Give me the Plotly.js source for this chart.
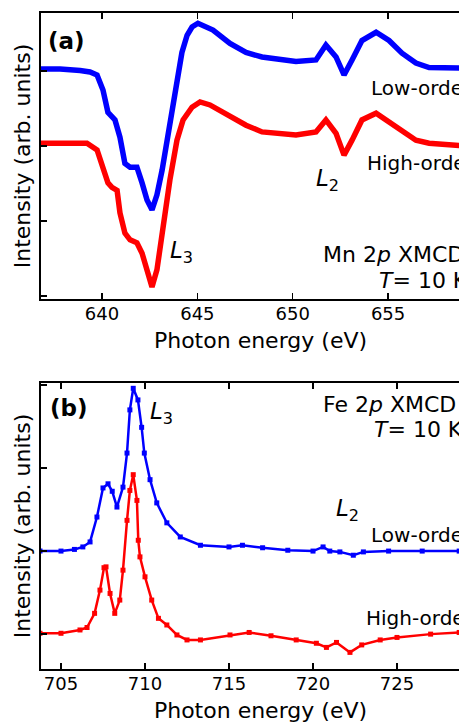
<!DOCTYPE html>
<html>
<head>
<meta charset="utf-8">
<script src="https://cdn.plot.ly/plotly-3.0.1.min.js"></script>
<style>
html, body { margin: 0; padding: 0; overflow: hidden; background: #fff; }
#chart { width: 480px; height: 728px; }
</style>
</head>
<body>
<div id="chart"></div>
<script>
// Panel (a): Mn 2p XMCD
const mnLowE = [636.80,637.80,638.85,639.37,639.74,640.05,640.31,640.68,640.94,641.20,641.47,641.83,642.10,642.36,642.62,642.88,643.15,643.41,643.67,643.93,644.19,644.46,644.72,645.03,645.82,646.71,647.55,648.39,649.28,650.17,651.22,651.74,652.27,652.69,653.11,653.63,654.37,655.05,655.73,656.46,657.15,658.72,659.80];
const mnLowI = [3.03,3.03,3.01,2.99,2.95,2.75,2.45,2.35,2.12,1.77,1.72,1.72,1.51,1.28,1.15,1.35,1.68,2.08,2.48,2.88,3.25,3.48,3.59,3.64,3.55,3.37,3.25,3.19,3.16,3.13,3.15,3.35,3.19,2.95,3.15,3.41,3.52,3.41,3.24,3.11,3.05,3.04,3.04];
const mnHighE = [636.80,639.21,639.74,640.05,640.31,640.52,640.79,640.94,641.20,641.47,641.83,642.10,642.36,642.62,642.88,643.04,643.30,643.56,643.93,644.25,644.72,645.14,645.66,646.19,646.66,647.55,648.39,649.28,650.17,651.22,651.74,652.27,652.69,653.11,653.63,654.37,655.05,655.73,656.46,657.15,658.72,659.80];
const mnHighI = [2.04,2.04,1.95,1.68,1.51,1.45,1.41,1.11,0.84,0.75,0.71,0.57,0.35,0.12,0.35,0.65,1.11,1.55,2.08,2.35,2.52,2.59,2.55,2.47,2.41,2.28,2.19,2.17,2.15,2.19,2.35,2.17,1.88,2.08,2.35,2.44,2.32,2.19,2.08,2.04,2.01,2.01];

// Panel (b): Fe 2p XMCD
const feLowE = [703.75,705.0,705.8,706.3,706.73,707.14,707.5,707.8,708.05,708.33,708.69,708.93,709.1,709.3,709.58,709.8,709.96,710.3,710.7,711.3,712.1,713.3,715.0,715.8,717.0,718.5,720.0,720.6,721.0,721.6,722.4,723.0,724.5,726.5,728.7,729.9];
const feLowI = [1.0,1.0,1.02,1.05,1.11,1.41,1.76,1.81,1.72,1.53,1.77,2.18,2.7,2.96,2.82,2.49,2.18,1.86,1.58,1.34,1.17,1.07,1.05,1.07,1.04,1.01,1.0,1.05,1.0,0.99,0.95,0.99,1.0,1.0,1.0,1.0];
const feHighE = [703.75,705.0,706.13,706.55,707.0,707.32,707.56,707.68,707.92,708.2,708.5,708.69,708.93,709.1,709.3,709.52,709.6,709.7,710.0,710.4,710.8,711.3,711.9,712.5,713.3,715.06,716.2,717.5,719.0,720.2,720.8,721.4,722.2,722.9,724.0,725.0,727.0,728.7,729.9];
const feHighI = [0.01,0.01,0.05,0.08,0.25,0.53,0.8,0.81,0.49,0.25,0.41,0.77,1.37,1.73,1.92,1.61,1.13,0.93,0.69,0.41,0.19,0.11,-0.01,-0.07,-0.07,-0.01,0.02,-0.02,-0.07,-0.11,-0.16,-0.1,-0.22,-0.13,-0.07,-0.04,0.0,0.02,0.02];

// Axis ticks
const mnTicks = [640, 645, 650, 655];
const feTicks = [705, 710, 715, 720, 725];
const yTicks = [0, 1, 2, 3];

const BLUE = '#0000ff', RED = '#ff0000';
const FONT = 'DejaVu Sans, Arial, sans-serif';

const traces = [
  {x: mnLowE, y: mnLowI, xaxis: 'x', yaxis: 'y', mode: 'lines', line: {color: BLUE, width: 5.5}},
  {x: mnHighE, y: mnHighI, xaxis: 'x', yaxis: 'y', mode: 'lines', line: {color: RED, width: 5.5}},
  {x: feLowE, y: feLowI, xaxis: 'x2', yaxis: 'y2', mode: 'lines+markers', line: {color: BLUE, width: 2.5}, marker: {color: BLUE, size: 5, symbol: 'square'}},
  {x: feHighE, y: feHighI, xaxis: 'x2', yaxis: 'y2', mode: 'lines+markers', line: {color: RED, width: 2.5}, marker: {color: RED, size: 5, symbol: 'square'}}
];

function xax(range, ticks, anchor) {
  return {
    anchor: anchor, domain: [0, 1], range: range, tickvals: ticks,
    ticks: 'inside', ticklen: 6, tickwidth: 1.5, tickcolor: '#000',
    showline: true, linewidth: 2, linecolor: '#000', mirror: 'ticks',
    showgrid: false, zeroline: false,
    ticklabelstandoff: -3,
    tickfont: {family: FONT, size: 18, color: '#000'},
    title: {text: 'Photon energy (eV)', font: {family: FONT, size: 22, color: '#000'}, standoff: 10}
  };
}
function yax(range, domain, anchor) {
  return {
    anchor: anchor, domain: domain, range: range, tickvals: yTicks,
    showticklabels: false,
    ticks: 'inside', ticklen: 6, tickwidth: 1.5, tickcolor: '#000',
    showline: true, linewidth: 2, linecolor: '#000', mirror: 'ticks',
    showgrid: false, zeroline: false,
    title: {text: 'Intensity (arb. units)', font: {family: FONT, size: 22, color: '#000'}, standoff: 2}
  };
}

function ann(xref, yref, x, y, text, size, extra) {
  return Object.assign({xref: xref, yref: yref, x: x, y: y, text: text, showarrow: false,
    xanchor: 'left', yanchor: 'middle', font: {family: FONT, size: size, color: '#000'}}, extra || {});
}

const annotations = [
  ann('x', 'y', 638.15, 3.41, '<b>(a)</b>', 23, {xanchor: 'center'}),
  ann('x', 'y', 654.0, 2.77, 'Low-order', 20),
  ann('x', 'y', 653.79, 1.77, 'High-order', 20),
  ann('x', 'y', 643.46, 0.59, '<i>L</i><sub>3</sub>', 23),
  ann('x', 'y', 651.1, 1.55, '<i>L</i><sub>2</sub>', 23),
  ann('x', 'y', 651.5, 0.55, 'Mn 2<i>p</i> XMCD', 22),
  ann('x', 'y', 654.4, 0.21, '<i>T</i>= 10 K', 22),
  ann('x2', 'y2', 705.5, 2.72, '<b>(b)</b>', 23, {xanchor: 'center'}),
  ann('x2', 'y2', 710.18, 2.66, '<i>L</i><sub>3</sub>', 23),
  ann('x2', 'y2', 720.48, 2.76, 'Fe 2<i>p</i> XMCD', 22),
  ann('x2', 'y2', 723.51, 2.46, '<i>T</i>= 10 K', 22),
  ann('x2', 'y2', 721.25, 1.49, '<i>L</i><sub>2</sub>', 23),
  ann('x2', 'y2', 723.33, 1.19, 'Low-order', 20),
  ann('x2', 'y2', 723.04, 0.19, 'High-order', 20)
];

const layout = {
  width: 480, height: 728,
  margin: {l: 41, r: 0, t: 13, b: 59},
  paper_bgcolor: '#fff', plot_bgcolor: '#fff',
  showlegend: false,
  font: {family: FONT, color: '#000'},
  xaxis: xax([636.8, 659.82], mnTicks, 'y'),
  yaxis: yax([-0.04, 3.777], [0.564, 1], 'x'),
  xaxis2: xax([703.81, 729.94], feTicks, 'y2'),
  yaxis2: yax([-0.42, 3.024], [0, 0.436], 'x2'),
  annotations: annotations
};

Plotly.newPlot('chart', traces, layout, {staticPlot: true, displayModeBar: false});
</script>
</body>
</html>
